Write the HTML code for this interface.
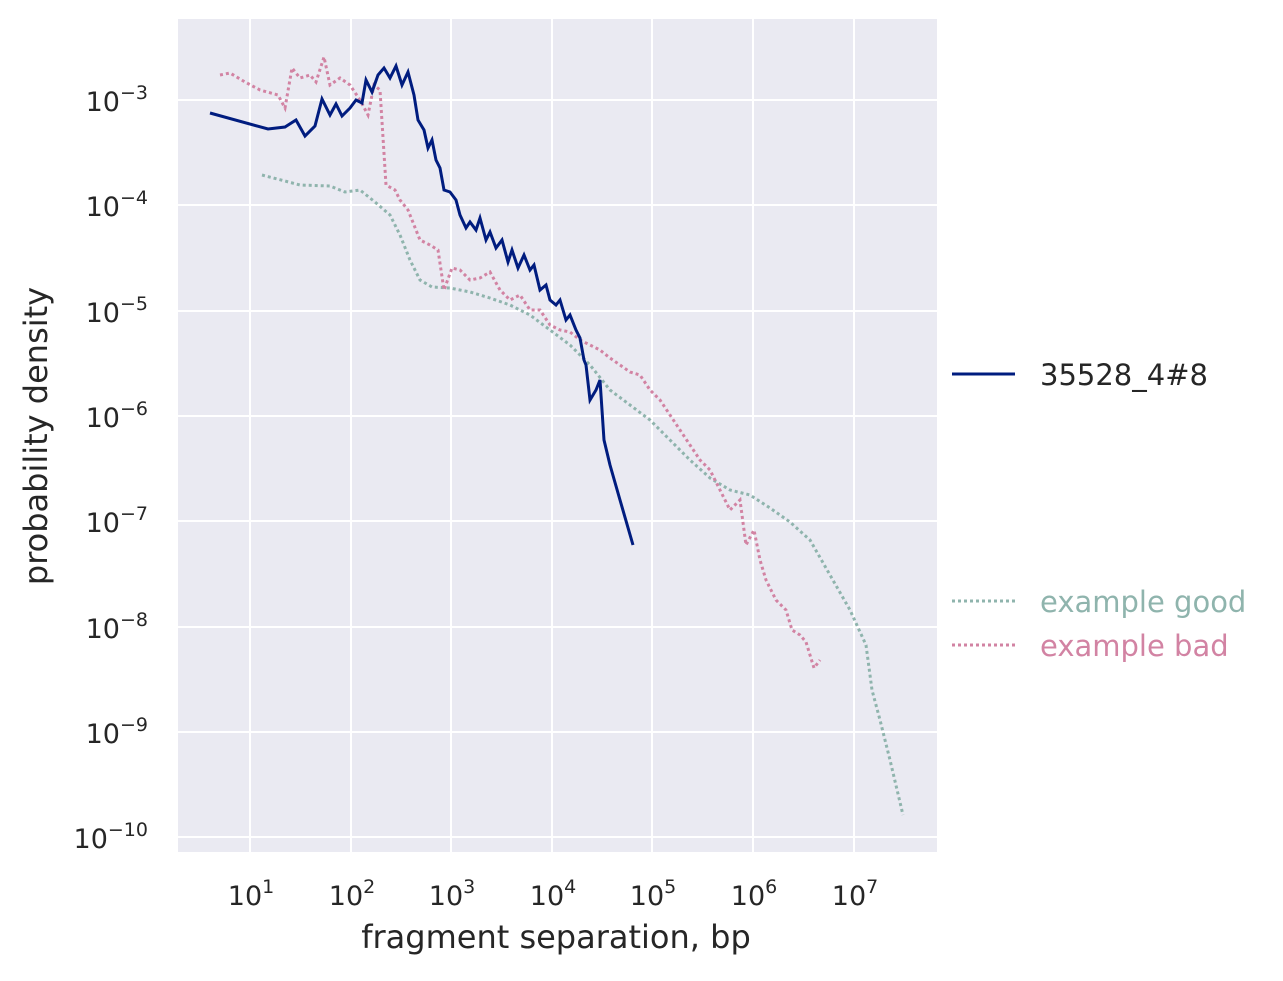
<!DOCTYPE html>
<html><head><style>body{margin:0;background:#fff}</style></head><body>
<svg width="1283" height="976" xmlns="http://www.w3.org/2000/svg" font-family="DejaVu Sans, sans-serif" fill="#262626">
<rect x="178" y="19" width="759" height="833" fill="#eaeaf2"/>
<g stroke="#fff" stroke-width="2">
<line x1="250" y1="19" x2="250" y2="852"/><line x1="351" y1="19" x2="351" y2="852"/><line x1="451" y1="19" x2="451" y2="852"/><line x1="552" y1="19" x2="552" y2="852"/><line x1="652" y1="19" x2="652" y2="852"/><line x1="753" y1="19" x2="753" y2="852"/><line x1="854" y1="19" x2="854" y2="852"/>
<line x1="178" y1="100" x2="937" y2="100"/><line x1="178" y1="205" x2="937" y2="205"/><line x1="178" y1="311" x2="937" y2="311"/><line x1="178" y1="416" x2="937" y2="416"/><line x1="178" y1="521" x2="937" y2="521"/><line x1="178" y1="627" x2="937" y2="627"/><line x1="178" y1="732" x2="937" y2="732"/><line x1="178" y1="837" x2="937" y2="837"/>
</g>
<g fill="none" stroke-width="3" stroke-dasharray="3,3">
<polyline stroke="#8fb4ad" points="262,175 300,185 330,186 345,192 360,190 375,202 390,215 400,235 410,260 420,280 432,287 450,288 470,292 490,298 510,305 530,315 550,330 570,345 590,365 610,390 630,405 650,420 670,440 690,460 710,478 730,490 750,495 770,508 790,522 810,540 830,575 850,610 866,645 872,690 880,720 890,760 903,815"/>
<polyline stroke="#d283a3" points="220,75 230,73 245,82 260,90 278,95 285,108 292,68 300,78 310,75 316,82 324,57 330,85 340,78 350,85 360,100 368,115 374,85 380,90 386,185 395,190 400,200 408,210 414,225 420,240 430,245 438,250 444,290 452,268 460,270 470,280 480,278 490,272 500,290 510,300 520,295 530,310 540,310 550,325 560,330 570,332 580,340 590,345 600,350 610,358 620,365 630,372 640,375 650,390 660,400 670,415 680,430 690,445 700,460 710,470 720,490 730,510 740,500 746,545 754,530 760,560 766,580 776,600 786,610 792,630 800,635 806,642 814,668 820,660"/>
</g>
<polyline fill="none" stroke="#001c7f" stroke-width="3" points="210,113 268,129 285,127 296,120 305,136 315,126 322,99 330,115 336,104 342,116 350,108 356,100 362,103 366,80 372,92 378,75 384,68 390,78 396,66 402,85 408,72 414,95 418,120 424,130 428,148 432,140 436,160 440,168 444,190 450,192 456,200 460,215 466,228 470,222 476,230 480,218 486,240 490,232 496,248 502,240 508,262 512,250 518,268 524,255 530,270 534,265 540,290 546,285 550,300 556,305 560,300 566,320 570,315 576,330 580,338 584,360 586,365 590,400 596,390 600,380 604,440 610,465 620,500 633,545"/>
<g font-size="27" text-anchor="middle">
<text x="251" y="905">10<tspan font-size="19" dy="-12">1</tspan></text>
<text x="352" y="905">10<tspan font-size="19" dy="-12">2</tspan></text>
<text x="452" y="905">10<tspan font-size="19" dy="-12">3</tspan></text>
<text x="553" y="905">10<tspan font-size="19" dy="-12">4</tspan></text>
<text x="653" y="905">10<tspan font-size="19" dy="-12">5</tspan></text>
<text x="754" y="905">10<tspan font-size="19" dy="-12">6</tspan></text>
<text x="855" y="905">10<tspan font-size="19" dy="-12">7</tspan></text>
</g>
<g font-size="27" text-anchor="end">
<text x="148" y="111">10<tspan font-size="19" dy="-12">−3</tspan></text>
<text x="148" y="216">10<tspan font-size="19" dy="-12">−4</tspan></text>
<text x="148" y="322">10<tspan font-size="19" dy="-12">−5</tspan></text>
<text x="148" y="427">10<tspan font-size="19" dy="-12">−6</tspan></text>
<text x="148" y="532">10<tspan font-size="19" dy="-12">−7</tspan></text>
<text x="148" y="638">10<tspan font-size="19" dy="-12">−8</tspan></text>
<text x="148" y="743">10<tspan font-size="19" dy="-12">−9</tspan></text>
<text x="148" y="848">10<tspan font-size="19" dy="-12">−10</tspan></text>
</g>
<text x="556" y="948" font-size="32" text-anchor="middle">fragment separation, bp</text>
<text transform="translate(47,436) rotate(-90)" font-size="32" text-anchor="middle">probability density</text>
<line x1="952" y1="374" x2="1015" y2="374" stroke="#001c7f" stroke-width="3"/>
<text x="1040" y="385" font-size="29">35528_4#8</text>
<line x1="952" y1="601" x2="1015" y2="601" stroke="#8fb4ad" stroke-width="3" stroke-dasharray="3,3"/>
<text x="1040" y="612" font-size="29" fill="#8fb4ad">example good</text>
<line x1="952" y1="645" x2="1015" y2="645" stroke="#d283a3" stroke-width="3" stroke-dasharray="3,3"/>
<text x="1040" y="656" font-size="29" fill="#d283a3">example bad</text>
</svg>
</body></html>
